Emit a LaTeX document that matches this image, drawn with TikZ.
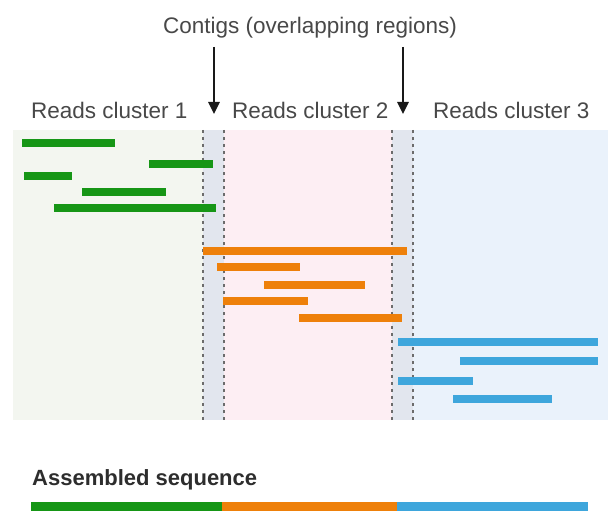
\documentclass[tikz,border=0pt]{standalone}
\usepackage{fontspec}
\setmainfont{Liberation Sans}
\usetikzlibrary{arrows.meta}
\definecolor{rgreen}{RGB}{22,150,22}
\definecolor{rorange}{RGB}{238,128,10}
\definecolor{rblue}{RGB}{62,166,220}
\definecolor{bgone}{RGB}{243,246,240}
\definecolor{bgtwo}{RGB}{253,238,243}
\definecolor{bgthree}{RGB}{234,242,251}
\definecolor{bgover}{RGB}{226,230,238}
\definecolor{txtgray}{RGB}{72,72,72}
\definecolor{txtdark}{RGB}{45,45,45}
\tikzset{
  lbl/.style={font=\fontsize{22.5}{26}\selectfont, text=txtgray, inner sep=0pt},
  boldlbl/.style={font=\fontsize{22}{26}\selectfont\bfseries, text=txtdark, inner sep=0pt},
  readbar/.style={line width=8.5pt},
  sepline/.style={draw=gray!85!black, line width=1.3pt, dash pattern=on 3pt off 4pt},
  contigarrow/.style={draw=black!90, line width=2.6pt, -{Triangle[length=12pt,width=11pt]}},
}
\begin{document}
\begin{tikzpicture}[x=1pt,y=-1pt]
\useasboundingbox (0,0) rectangle (614,511);
% backgrounds
\fill[bgone] (13,130) rectangle (203,420);
\fill[bgover] (203,130) rectangle (224,420);
\fill[bgtwo] (224,130) rectangle (392,420);
\fill[bgover] (392,130) rectangle (413,420);
\fill[bgthree] (413,130) rectangle (608,420);
% dashed boundaries
\coordinate (d1t) at (203,130); \coordinate (d1b) at (203,420);
\coordinate (d2t) at (224,130); \coordinate (d2b) at (224,420);
\coordinate (d3t) at (392,130); \coordinate (d3b) at (392,420);
\coordinate (d4t) at (413,130); \coordinate (d4b) at (413,420);
\draw[sepline] (d1t) -- (d1b);
\draw[sepline] (d2t) -- (d2b);
\draw[sepline] (d3t) -- (d3b);
\draw[sepline] (d4t) -- (d4b);
% titles
\node[lbl, anchor=base] (contigs) at (310,34) {Contigs (overlapping regions)};
\node[lbl, anchor=base west] (rc1) at (31,118) {Reads cluster 1};
\node[lbl, anchor=base west] (rc2) at (232,118) {Reads cluster 2};
\node[lbl, anchor=base west] (rc3) at (433,118) {Reads cluster 3};
% arrows
\coordinate (a1s) at (214,47); \coordinate (a1e) at (214,114);
\coordinate (a2s) at (403,47); \coordinate (a2e) at (403,114);
\draw[contigarrow] (a1s) -- (a1e);
\draw[contigarrow] (a2s) -- (a2e);
% green reads
\draw[readbar, rgreen] (22,143) -- (115,143);
\draw[readbar, rgreen] (149,164) -- (213,164);
\draw[readbar, rgreen] (24,176) -- (72,176);
\draw[readbar, rgreen] (82,192) -- (166,192);
\draw[readbar, rgreen] (54,208) -- (216,208);
% orange reads
\draw[readbar, rorange] (203,251) -- (407,251);
\draw[readbar, rorange] (217,267) -- (300,267);
\draw[readbar, rorange] (264,285) -- (365,285);
\draw[readbar, rorange] (223,301) -- (308,301);
\draw[readbar, rorange] (299,318) -- (402,318);
% blue reads
\draw[readbar, rblue] (398,342) -- (598,342);
\draw[readbar, rblue] (460,361) -- (598,361);
\draw[readbar, rblue] (398,381) -- (473,381);
\draw[readbar, rblue] (453,399) -- (552,399);
% assembled
\node[boldlbl, anchor=base west] (asm) at (32,485) {Assembled sequence};
\fill[rgreen] (31,502) rectangle (222,511);
\fill[rorange] (222,502) rectangle (397,511);
\fill[rblue] (397,502) rectangle (588,511);
\end{tikzpicture}
\end{document}
